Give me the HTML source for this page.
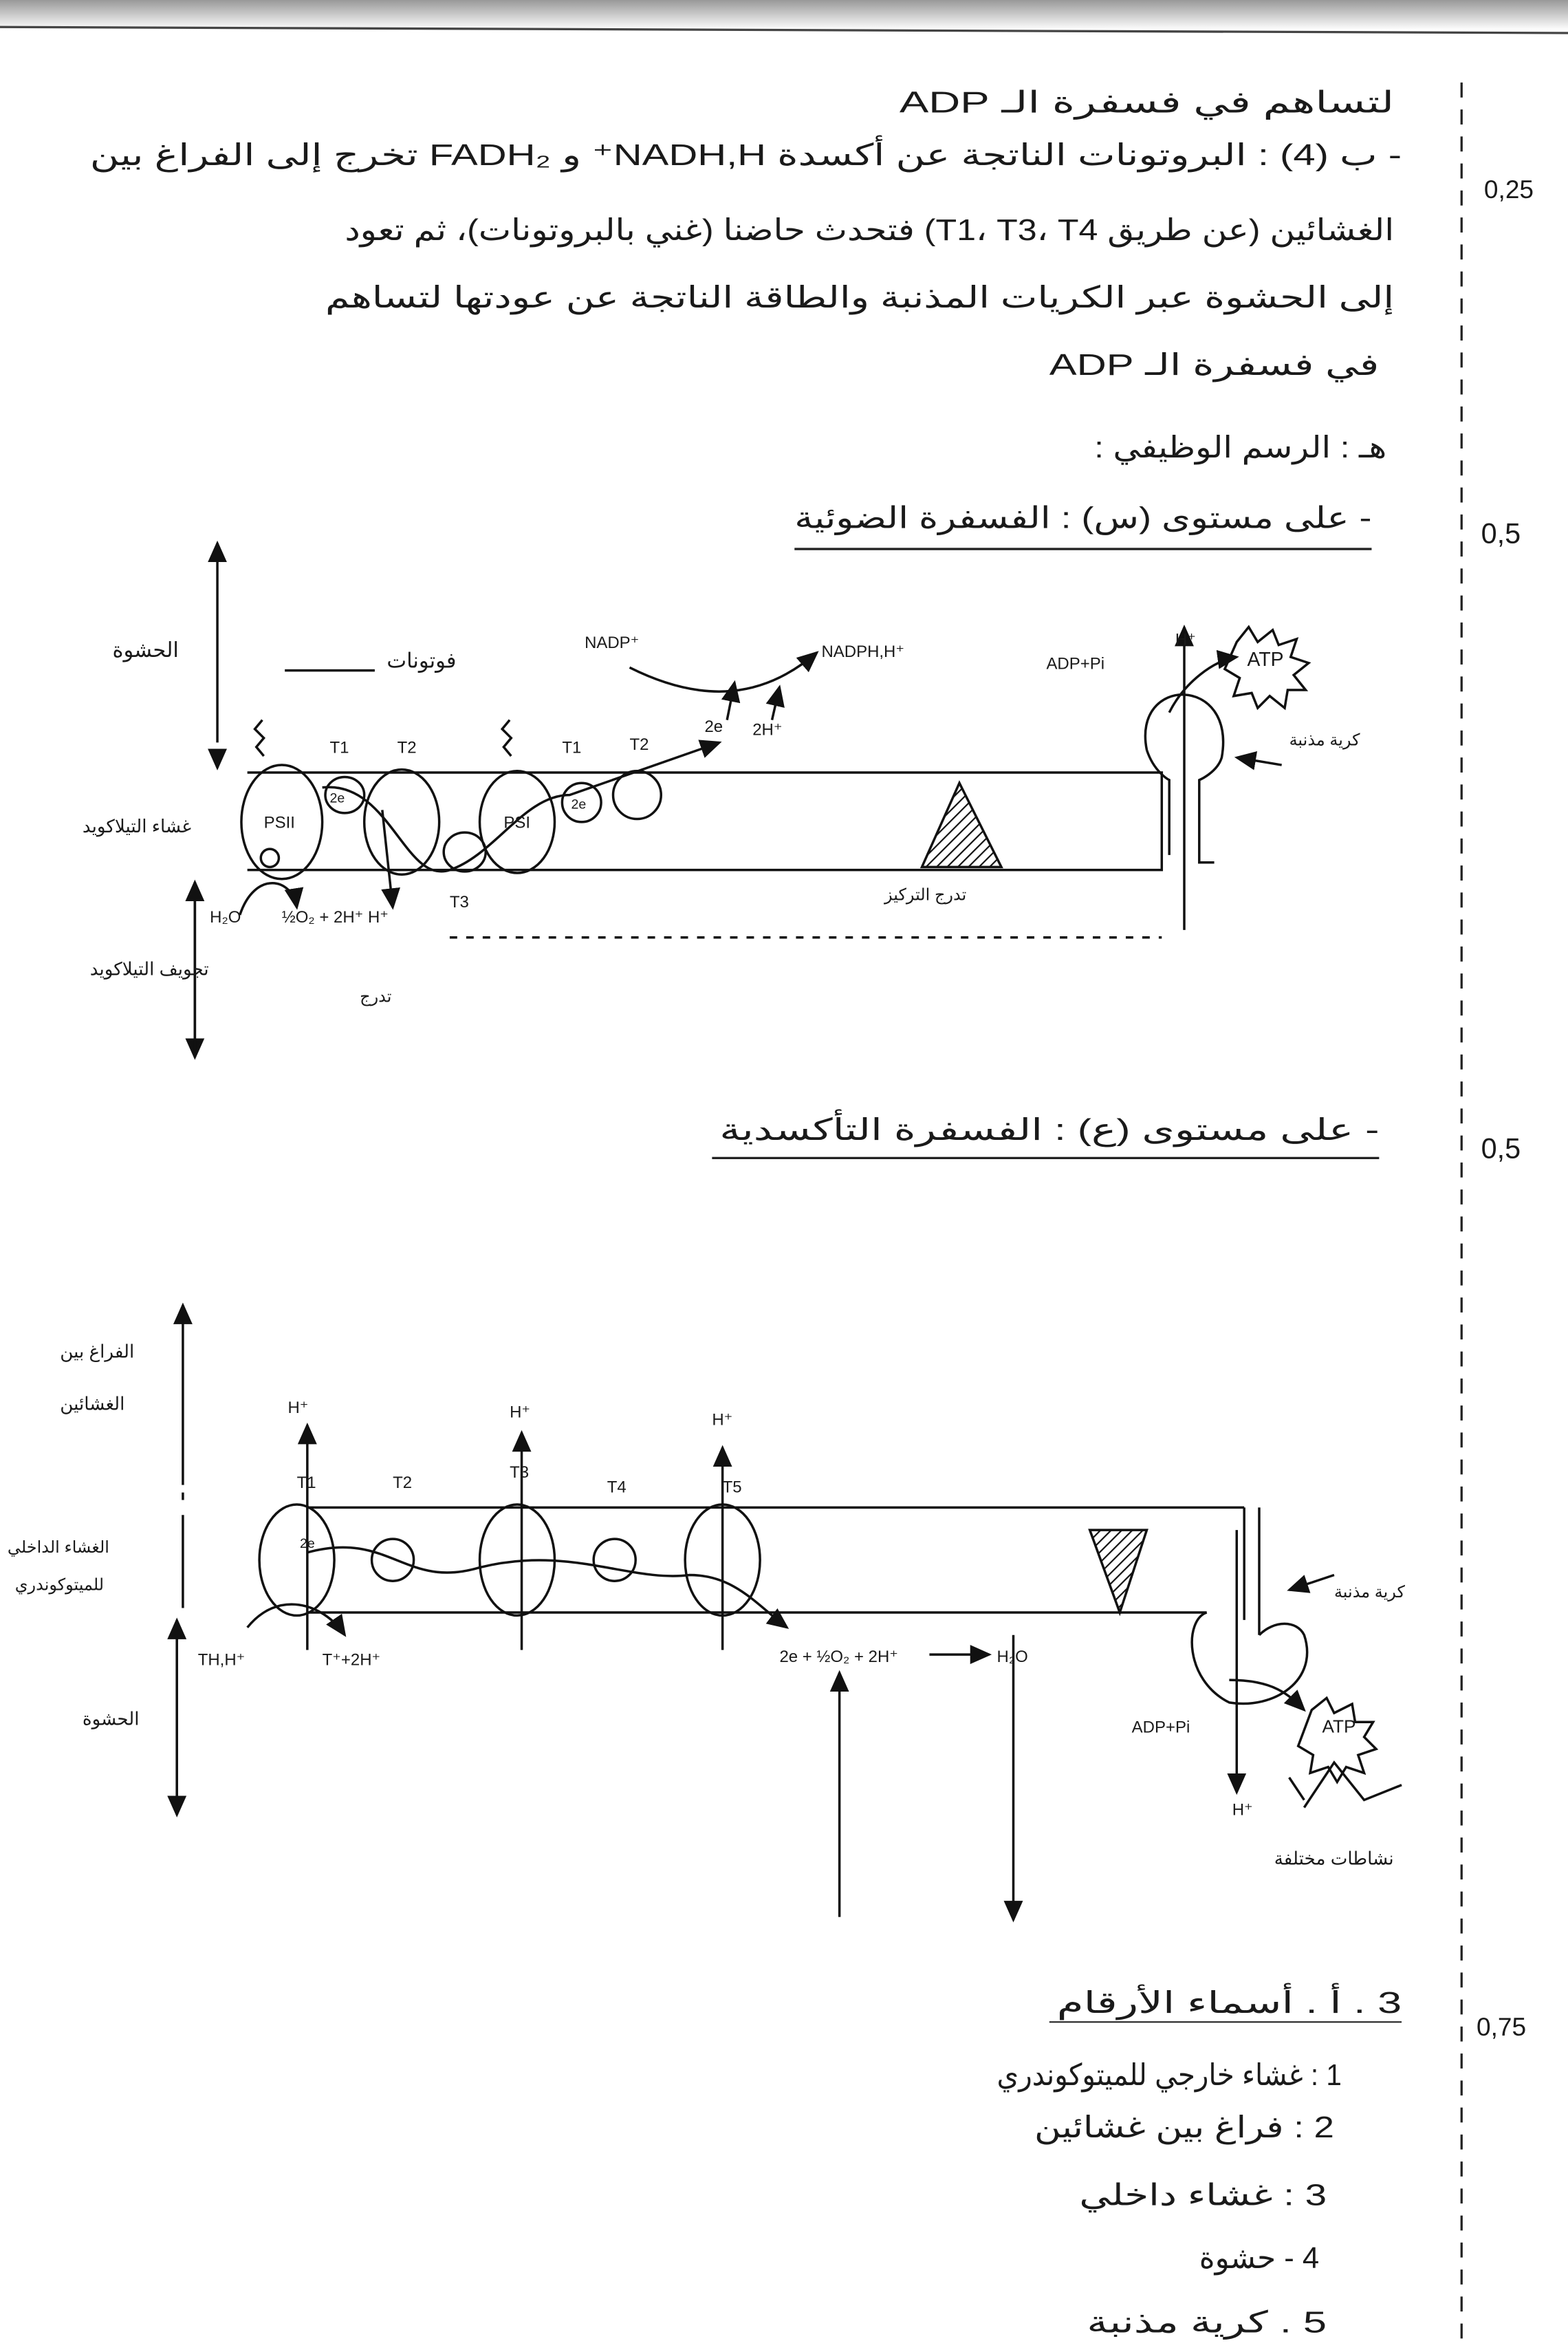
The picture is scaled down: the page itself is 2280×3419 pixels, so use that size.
<!DOCTYPE html>
<html><head><meta charset="utf-8">
<style>
html,body{margin:0;padding:0;background:#fff;}
svg{display:block;}
text{font-family:"Liberation Sans","DejaVu Sans",sans-serif;fill:#1a1a1a;}
.ar{font-size:20px;}
.sm{font-size:11px;}
</style></head><body>
<svg width="2280" height="3419" viewBox="0 0 1046 1568" preserveAspectRatio="none" xmlns="http://www.w3.org/2000/svg">
<defs>
<linearGradient id="tg" x1="0" y1="0" x2="0" y2="1"><stop offset="0" stop-color="#999"/><stop offset="1" stop-color="#fff"/></linearGradient>
<marker id="ar" markerWidth="10" markerHeight="10" refX="8" refY="5" orient="auto"><path d="M0,1 L9,5 L0,9 z" fill="#111"/></marker>
<pattern id="hatch" width="5" height="5" patternUnits="userSpaceOnUse" patternTransform="rotate(45)"><line x1="0" y1="0" x2="0" y2="5" stroke="#111" stroke-width="2"/></pattern>
</defs>
<rect x="0" y="0" width="1046" height="20" fill="url(#tg)"/>
<line x1="0" y1="18" x2="1046" y2="22" stroke="#444" stroke-width="1.5"/>
<line x1="975" y1="55" x2="975" y2="1560" stroke="#222" stroke-width="1.5" stroke-dasharray="10,8"/>
<text x="990" y="132" font-size="17">0,25</text>
<text x="988" y="362" font-size="19">0,5</text>
<text x="988" y="772" font-size="19">0,5</text>
<text x="985" y="1357" font-size="17">0,75</text>
<g direction="rtl" text-anchor="end">
<text class="ar" x="600" y="75" textLength="330" lengthAdjust="spacingAndGlyphs">لتساهم في فسفرة الـ ADP</text>
<text class="ar" x="60" y="110" textLength="875" lengthAdjust="spacingAndGlyphs">- ب (4) : البروتونات الناتجة عن أكسدة NADH,H⁺ و FADH₂ تخرج إلى الفراغ بين</text>
<text class="ar" x="230" y="160" textLength="700" lengthAdjust="spacingAndGlyphs">الغشائين (عن طريق T1، T3، T4) فتحدث حاضنا (غني بالبروتونات)، ثم تعود</text>
<text class="ar" x="217" y="205" textLength="713" lengthAdjust="spacingAndGlyphs">إلى الحشوة عبر الكريات المذنبة والطاقة الناتجة عن عودتها لتساهم</text>
<text class="ar" x="700" y="250" textLength="220" lengthAdjust="spacingAndGlyphs">في فسفرة الـ ADP</text>
<text class="ar" x="730" y="305" textLength="195" lengthAdjust="spacingAndGlyphs">هـ : الرسم الوظيفي :</text>
<text class="ar" x="530" y="352" textLength="385" lengthAdjust="spacingAndGlyphs">- على مستوى (س) : الفسفرة الضوئية</text>
<text class="ar" x="480" y="760" textLength="440" lengthAdjust="spacingAndGlyphs">- على مستوى (ع) : الفسفرة التأكسدية</text>
<text class="ar" x="705" y="1342" textLength="230" lengthAdjust="spacingAndGlyphs">3 . أ . أسماء الأرقام</text>
<text class="ar" x="665" y="1390" textLength="230" lengthAdjust="spacingAndGlyphs">1 : غشاء خارجي للميتوكوندري</text>
<text class="ar" x="690" y="1425" textLength="200" lengthAdjust="spacingAndGlyphs">2 : فراغ بين غشائين</text>
<text class="ar" x="720" y="1470" textLength="165" lengthAdjust="spacingAndGlyphs">3 : غشاء داخلي</text>
<text class="ar" x="800" y="1512" textLength="80" lengthAdjust="spacingAndGlyphs">4 - حشوة</text>
<text class="ar" x="725" y="1555" textLength="160" lengthAdjust="spacingAndGlyphs">5 . كرية مذنبة</text>
</g>
<line x1="530" y1="366" x2="915" y2="366" stroke="#222" stroke-width="1.5"/>
<line x1="475" y1="772" x2="920" y2="772" stroke="#222" stroke-width="1.5"/>
<line x1="700" y1="1348" x2="935" y2="1348" stroke="#222" stroke-width="1"/>

<!-- Diagram 1 -->
<g stroke="#111" stroke-width="1.6" fill="none">
<line x1="145" y1="495" x2="145" y2="362" marker-end="url(#ar)"/>
<line x1="145" y1="500" x2="145" y2="512" marker-end="url(#ar)"/>
<line x1="130" y1="590" x2="130" y2="705" marker-end="url(#ar)"/>
<line x1="130" y1="700" x2="130" y2="588" marker-end="url(#ar)"/>
<path d="M165,515 L775,515 L775,580 L165,580"/>
<line x1="300" y1="625" x2="775" y2="625" stroke-dasharray="5,6"/>
<ellipse cx="188" cy="548" rx="27" ry="38"/>
<ellipse cx="230" cy="530" rx="13" ry="12"/>
<ellipse cx="268" cy="548" rx="25" ry="35"/>
<ellipse cx="310" cy="568" rx="14" ry="13"/>
<ellipse cx="345" cy="548" rx="25" ry="34"/>
<ellipse cx="388" cy="535" rx="13" ry="13"/>
<ellipse cx="425" cy="530" rx="16" ry="16"/>
<circle cx="180" cy="572" r="6"/>
<path d="M215,525 C260,520 270,590 300,580 C330,570 350,530 380,530 L480,495" marker-end="url(#ar)"/>
<path d="M255,540 L262,605" marker-end="url(#ar)"/>
<path d="M160,610 C170,580 195,585 198,605" marker-end="url(#ar)"/>
<path d="M420,445 C470,470 510,465 545,435" marker-end="url(#ar)"/>
<line x1="485" y1="480" x2="490" y2="455" marker-end="url(#ar)"/>
<line x1="515" y1="480" x2="520" y2="458" marker-end="url(#ar)"/>
<path d="M175,480 l-5,6 l6,6 l-5,6 l5,6" />
<path d="M340,480 l-5,6 l6,6 l-5,6 l5,6" />
<polygon points="640,522 615,578 668,578" fill="url(#hatch)"/>
<path d="M765,500 C755,450 825,450 815,505 C812,515 800,520 800,520 L800,575 L810,575"/>
<path d="M765,500 C770,515 780,520 780,520 L780,570"/>
<line x1="790" y1="620" x2="790" y2="418" marker-end="url(#ar)"/>
<path d="M780,475 C790,455 810,440 825,438" marker-end="url(#ar)"/>
<path d="M825,428 l8,-10 l6,10 l10,-8 l4,10 l12,-4 l-4,12 l12,4 l-10,8 l8,10 l-12,0 l-2,12 l-10,-8 l-8,8 l-4,-10 l-12,2 l4,-12 l-10,-6 z"/>
<path d="M855,510 L825,505" marker-end="url(#ar)"/>
<line x1="190" y1="447" x2="250" y2="447"/>
</g>
<g class="sm">
<text x="75" y="438" font-size="14">الحشوة</text>
<text x="258" y="445" font-size="14">فوتونات</text>
<text x="55" y="555" font-size="12">غشاء التيلاكويد</text>
<text x="60" y="650" font-size="12">تجويف التيلاكويد</text>
<text x="176" y="552">PSII</text>
<text x="336" y="552">PSI</text>
<text x="220" y="502">T1</text><text x="265" y="502">T2</text>
<text x="375" y="502">T1</text><text x="420" y="500">T2</text>
<text x="300" y="605">T3</text>
<text x="220" y="535" font-size="9">2e</text>
<text x="381" y="539" font-size="9">2e</text>
<text x="390" y="432">NADP⁺</text>
<text x="548" y="438">NADPH,H⁺</text>
<text x="470" y="488">2e</text><text x="502" y="490">2H⁺</text>
<text x="140" y="615">H₂O</text>
<text x="188" y="615">½O₂ + 2H⁺ H⁺</text>
<text x="240" y="668">تدرج</text>
<text x="590" y="600">تدرج التركيز</text>
<text x="698" y="446">ADP+Pi</text>
<text x="784" y="430">H⁺</text>
<text x="832" y="444" font-size="13">ATP</text>
<text x="860" y="497">كرية مذنبة</text>
</g>

<!-- Diagram 2 -->
<g stroke="#111" stroke-width="1.6" fill="none">
<line x1="122" y1="990" x2="122" y2="870" marker-end="url(#ar)"/>
<line x1="122" y1="995" x2="122" y2="1000" />
<line x1="122" y1="1010" x2="122" y2="1072"/>
<line x1="118" y1="1082" x2="118" y2="1210" marker-end="url(#ar)"/>
<line x1="118" y1="1200" x2="118" y2="1080" marker-end="url(#ar)"/>
<path d="M205,1005 L830,1005 M205,1075 L805,1075"/>
<path d="M830,1005 L830,1080 M840,1005 L840,1090"/>
<ellipse cx="198" cy="1040" rx="25" ry="37"/>
<ellipse cx="262" cy="1040" rx="14" ry="14"/>
<ellipse cx="345" cy="1040" rx="25" ry="37"/>
<ellipse cx="410" cy="1040" rx="14" ry="14"/>
<ellipse cx="482" cy="1040" rx="25" ry="37"/>
<line x1="205" y1="1100" x2="205" y2="950" marker-end="url(#ar)"/>
<line x1="348" y1="1100" x2="348" y2="955" marker-end="url(#ar)"/>
<line x1="482" y1="1100" x2="482" y2="965" marker-end="url(#ar)"/>
<path d="M205,1035 C260,1020 270,1060 320,1045 C380,1030 420,1055 460,1050 C490,1050 505,1070 525,1085" marker-end="url(#ar)"/>
<path d="M165,1085 C185,1060 215,1068 230,1090" marker-end="url(#ar)"/>
<polygon points="727,1020 765,1020 747,1075" fill="url(#hatch)"/>
<path d="M805,1075 C790,1080 790,1120 820,1135 C850,1140 880,1120 870,1090 C865,1080 850,1080 840,1090"/>
<line x1="825" y1="1020" x2="825" y2="1195" marker-end="url(#ar)"/>
<path d="M820,1120 C850,1120 860,1130 870,1140" marker-end="url(#ar)"/>
<path d="M875,1140 l10,-8 l5,10 l12,-6 l2,12 l12,0 l-6,10 l8,8 l-12,4 l4,12 l-12,-4 l-6,10 l-6,-10 l-12,4 l2,-12 l-10,-6 z"/>
<path d="M870,1200 L860,1185 M870,1205 l20,-30 l20,25 l25,-10" />
<path d="M890,1050 L860,1060" marker-end="url(#ar)"/>
<line x1="560" y1="1278" x2="560" y2="1115" marker-end="url(#ar)"/>
<line x1="676" y1="1090" x2="676" y2="1280" marker-end="url(#ar)"/>
<line x1="620" y1="1103" x2="660" y2="1103" marker-end="url(#ar)"/>
</g>
<g class="sm">
<text x="40" y="905" font-size="12">الفراغ بين</text>
<text x="40" y="940" font-size="12">الغشائين</text>
<text x="5" y="1035" font-size="11">الغشاء الداخلي</text>
<text x="10" y="1060" font-size="11">للميتوكوندري</text>
<text x="55" y="1150" font-size="12">الحشوة</text>
<text x="192" y="942">H⁺</text><text x="340" y="945">H⁺</text><text x="475" y="950">H⁺</text>
<text x="198" y="992">T1</text><text x="262" y="992">T2</text><text x="340" y="985">T3</text>
<text x="405" y="995">T4</text><text x="482" y="995">T5</text>
<text x="200" y="1032" font-size="9">2e</text>
<text x="132" y="1110">TH,H⁺</text>
<text x="215" y="1110">T⁺+2H⁺</text>
<text x="520" y="1108">2e + ½O₂ + 2H⁺</text>
<text x="665" y="1108">H₂O</text>
<text x="755" y="1155">ADP+Pi</text>
<text x="882" y="1155" font-size="12">ATP</text>
<text x="822" y="1210">H⁺</text>
<text x="890" y="1065">كرية مذنبة</text>
<text x="850" y="1243" font-size="12">نشاطات مختلفة</text>
</g>
</svg>
</body></html>
